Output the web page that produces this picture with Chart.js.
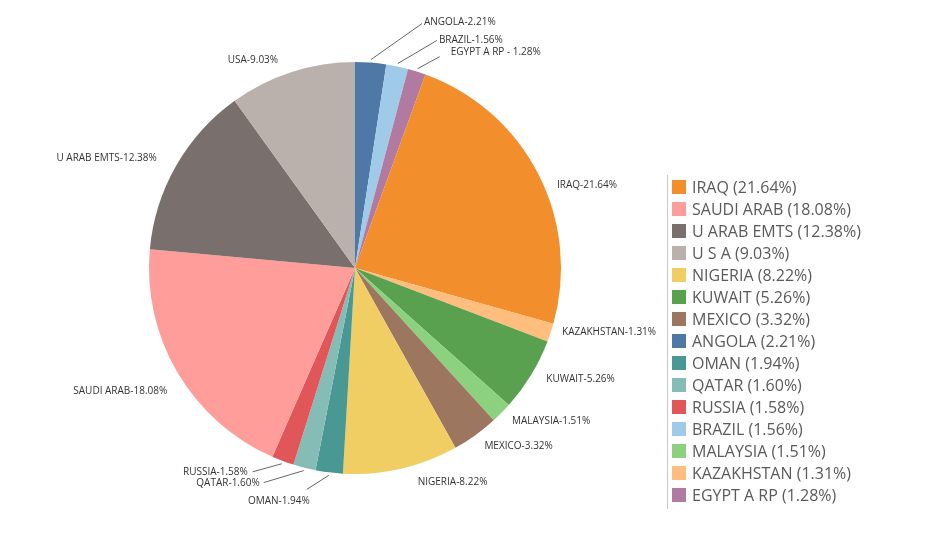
<!DOCTYPE html>
<html>
<head>
<meta charset="utf-8">
<script src="https://cdn.jsdelivr.net/npm/chart.js@4.4.1/dist/chart.umd.min.js"></script>
<style>
  html, body { margin: 0; padding: 0; background: #ffffff; }
  #wrap { width: 941px; height: 539px; position: relative; }
</style>
</head>
<body>
<div id="wrap"><canvas id="c" width="941" height="539"></canvas></div>
<script>
// ---- data ----
const countries = ["ANGOLA", "BRAZIL", "EGYPT A RP", "IRAQ", "KAZAKHSTAN", "KUWAIT", "MALAYSIA", "MEXICO",
                   "NIGERIA", "OMAN", "QATAR", "RUSSIA", "SAUDI ARAB", "U ARAB EMTS", "U S A"];
const shares = [2.21, 1.56, 1.28, 21.64, 1.31, 5.26, 1.51, 3.32, 8.22, 1.94, 1.60, 1.58, 18.08, 12.38, 9.03];
const sliceLabels = ["ANGOLA-2.21%", "BRAZIL-1.56%", "EGYPT A RP - 1.28%", "IRAQ-21.64%", "KAZAKHSTAN-1.31%",
                     "KUWAIT-5.26%", "MALAYSIA-1.51%", "MEXICO-3.32%", "NIGERIA-8.22%", "OMAN-1.94%",
                     "QATAR-1.60%", "RUSSIA-1.58%", "SAUDI ARAB-18.08%", "U ARAB EMTS-12.38%", "USA-9.03%"];
const legendLabels = countries.map((c, i) => c + " (" + shares[i].toFixed(2) + "%)");
const colors = ["#4E79A7", "#A0CBE8", "#B07AA1", "#F28E2B", "#FFBE7D", "#59A14F", "#8CD17D", "#9D7660",
                "#F1CE63", "#499894", "#86BCB6", "#E15759", "#FF9D9A", "#79706E", "#BAB0AC"];

// ---- label placement (offsets relative to each slice's own geometry) ----
const labelPlacement = {
  "ANGOLA":      { leader: [51, -36], text: [2, -1] },
  "BRAZIL":      { leader: [39, -23], text: [2, 0] },
  "EGYPT A RP":  { leader: [22, -12], text: [11, -4] },
  "IRAQ":        { nudge: [8, 17] },
  "KAZAKHSTAN":  { nudge: [0, -4] },
  "KUWAIT":      { nudge: [5, -2] },
  "MALAYSIA":    { nudge: [2, 0] },
  "MEXICO":      { nudge: [2, 1] },
  "NIGERIA":     { nudge: [14, 2] },
  "OMAN":        { leader: [-22, 14], text: [3, 12] },
  "QATAR":       { leader: [-40, 12], text: [-4, 1] },
  "RUSSIA":      { leader: [-29, 8], text: [-5, 0] },
  "SAUDI ARAB":  { nudge: [0, 12] },
  "U ARAB EMTS": { nudge: [-9, -2] },
  "U S A":       { nudge: [-10, 0] }
};

const sliceLabelPlugin = {
  id: 'sliceLabels',
  afterDatasetsDraw(chart) {
    const ctx = chart.ctx;
    const meta = chart.getDatasetMeta(0);
    ctx.save();
    ctx.font = '10px "Open Sans", sans-serif';
    ctx.fillStyle = '#333333';
    ctx.strokeStyle = '#666666';
    ctx.lineWidth = 1;
    ctx.textBaseline = 'middle';
    meta.data.forEach((arc, i) => {
      const p = arc.getProps(['x', 'y', 'startAngle', 'endAngle', 'outerRadius'], true);
      const mid = (p.startAngle + p.endAngle) / 2;
      const cx = Math.cos(mid), cy = Math.sin(mid);
      const place = labelPlacement[countries[i]] || {};
      const text = sliceLabels[i];
      if (place.leader) {
        const r0 = p.outerRadius + 3;
        const sx = p.x + cx * r0, sy = p.y + cy * r0;
        const ex = sx + place.leader[0], ey = sy + place.leader[1];
        ctx.beginPath();
        ctx.moveTo(sx, sy);
        ctx.lineTo(ex, ey);
        ctx.stroke();
        ctx.textAlign = place.leader[0] >= 0 ? 'left' : 'right';
        ctx.fillText(text, ex + place.text[0], ey + place.text[1]);
      } else {
        const r1 = p.outerRadius + 12;
        const nx = place.nudge ? place.nudge[0] : 0;
        const ny = place.nudge ? place.nudge[1] : 0;
        ctx.textAlign = cx >= 0 ? 'left' : 'right';
        ctx.fillText(text, p.x + cx * r1 + nx, p.y + cy * r1 + ny);
      }
    });
    ctx.restore();
  }
};

const sideLegendPlugin = {
  id: 'sideLegend',
  afterDraw(chart) {
    const ctx = chart.ctx;
    const meta = chart.getDatasetMeta(0);
    const order = shares.map((v, i) => i).sort((a, b) => shares[b] - shares[a]);
    const area = chart.chartArea;
    const left = area.right + 106;
    const top = 187;
    const step = 22;
    ctx.save();
    ctx.strokeStyle = '#c8c8c8';
    ctx.lineWidth = 1;
    ctx.beginPath();
    ctx.moveTo(left + 0.5, top - 12);
    ctx.lineTo(left + 0.5, top + step * (order.length - 1) + 14);
    ctx.stroke();
    ctx.font = '16px "Open Sans", sans-serif';
    ctx.textAlign = 'left';
    ctx.textBaseline = 'middle';
    order.forEach((idx, k) => {
      const y = top + k * step;
      ctx.fillStyle = meta.data[idx].options.backgroundColor;
      ctx.fillRect(left + 5, y - 7, 14, 14);
      ctx.fillStyle = '#5a5a5a';
      ctx.fillText(legendLabels[idx], left + 25, y + 1);
    });
    ctx.restore();
  }
};

new Chart(document.getElementById('c'), {
  type: 'pie',
  data: {
    labels: countries,
    datasets: [{
      data: shares,
      backgroundColor: colors,
      borderWidth: 0
    }]
  },
  options: {
    responsive: false,
    animation: false,
    layout: { padding: { left: 149, top: 62, right: 380, bottom: 65 } },
    plugins: {
      legend: { display: false },
      tooltip: { enabled: false }
    }
  },
  plugins: [sliceLabelPlugin, sideLegendPlugin]
});
</script>
</body>
</html>
